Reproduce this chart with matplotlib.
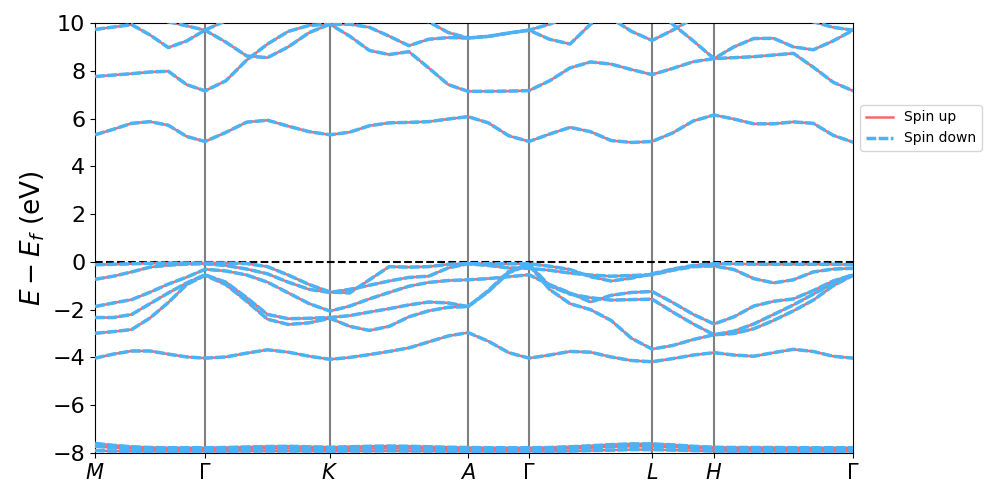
import numpy as np
import matplotlib
matplotlib.use("Agg")
import matplotlib.pyplot as plt

# k-path positions (sampling points along M-G-K-A-G-L-H-G)
kdist = [0.000, 0.183, 0.367, 0.550, 0.733, 0.917, 1.100,
         1.308, 1.517, 1.725, 1.933, 2.142, 2.350,
         2.547, 2.744, 2.941, 3.139, 3.336, 3.533, 3.730,
         3.933, 4.137, 4.340,
         4.545, 4.750, 4.955, 5.160, 5.365, 5.570,
         5.777, 5.983, 6.190,
         6.389, 6.587, 6.786, 6.984, 7.183, 7.381, 7.580]

kticks = [0.0, 1.10, 2.35, 3.73, 4.34, 5.57, 6.19, 7.58]
klabels = ["$M$", r"$\Gamma$", "$K$", "$A$", r"$\Gamma$", "$L$", "$H$", r"$\Gamma$"]

# band energies (eV), same for both spins
c10 = [10.5, 10.45, 10.35, 10.2, 10.05, 9.88, 9.70,
       9.2, 8.62, 8.55, 9.0, 9.6, 9.95,
       9.95, 9.82, 9.45, 9.05, 9.32, 9.39, 9.37,
       9.44, 9.58, 9.70,
       9.32, 9.12, 9.95, 10.5, 10.8, 10.6,
       9.95, 9.25, 8.51,
       9.0, 9.35, 9.36, 9.0, 8.88, 9.25, 9.70]
c9 = [9.73, 9.83, 9.93, 9.5, 8.97, 9.25, 9.70,
      10.1, 10.4, 10.6, 10.6, 10.5, 10.45,
      10.45, 10.4, 10.35, 10.25, 10.05, 9.6, 9.37,
      9.44, 9.58, 9.70,
      9.95, 10.3, 10.5, 10.2, 9.65, 9.27,
      9.7, 10.2, 10.5,
      10.6, 10.6, 10.5, 10.3, 10.05, 9.82, 9.70]
c8 = [7.76, 7.82, 7.88, 7.95, 7.98, 7.42, 7.16,
      7.58, 8.45, 9.12, 9.65, 9.90, 9.95,
      9.45, 8.85, 8.68, 8.80, 8.12, 7.42, 7.14,
      7.14, 7.15, 7.17,
      7.58, 8.12, 8.37, 8.28, 8.05, 7.84,
      8.1, 8.38, 8.51,
      8.55, 8.59, 8.66, 8.73, 8.15, 7.52, 7.16]
c7 = [5.32, 5.55, 5.80, 5.87, 5.72, 5.25, 5.04,
      5.42, 5.85, 5.93, 5.68, 5.45, 5.32,
      5.43, 5.70, 5.82, 5.84, 5.87, 5.98, 6.08,
      5.82, 5.28, 5.04,
      5.35, 5.63, 5.45, 5.08, 5.0, 5.04,
      5.4, 5.9, 6.15,
      5.98, 5.78, 5.78, 5.86, 5.8, 5.3, 5.01]
v1 = [-0.12, -0.10, -0.08, -0.06, -0.05, -0.05, -0.05,
      -0.05, -0.07, -0.2, -0.55, -0.95, -1.26,
      -1.3, -0.75, -0.2, -0.22, -0.2, -0.1, -0.07,
      -0.08, -0.08, -0.08,
      -0.18, -0.32, -0.62, -0.8, -0.68, -0.5,
      -0.3, -0.15, -0.08,
      -0.08, -0.1, -0.1, -0.1, -0.1, -0.1, -0.12]
v2 = [-0.73, -0.6, -0.42, -0.22, -0.14, -0.09, -0.08,
      -0.15, -0.3, -0.5, -0.85, -1.15, -1.28,
      -1.15, -0.98, -0.8, -0.65, -0.6, -0.25, -0.08,
      -0.15, -0.25, -0.27,
      -0.35, -0.47, -0.55, -0.6, -0.57, -0.54,
      -0.35, -0.2, -0.17,
      -0.32, -0.7, -0.88, -0.75, -0.42, -0.3, -0.27]
v3 = [-1.87, -1.72, -1.58, -1.27, -0.93, -0.64, -0.31,
      -0.38, -0.55, -0.85, -1.3, -1.75, -2.06,
      -1.85, -1.55, -1.28, -1.02, -0.86, -0.78, -0.75,
      -0.7, -0.62, -0.54,
      -0.95, -1.3, -1.68, -1.4, -1.28, -1.24,
      -1.7, -2.2, -2.6,
      -2.3, -1.85, -1.65, -1.55, -1.2, -0.8, -0.54]
v4 = [-2.33, -2.33, -2.2, -1.75, -1.3, -0.88, -0.54,
      -0.85, -1.5, -2.2, -2.38, -2.36, -2.33,
      -2.25, -2.1, -1.96, -1.8, -1.68, -1.72, -1.87,
      -1.2, -0.4, -0.1,
      -1.0, -1.35, -1.5, -1.6, -1.58, -1.56,
      -2.1, -2.6, -3.05,
      -2.9, -2.6, -2.2, -1.8, -1.35, -0.9, -0.56]
v5 = [-2.99, -2.92, -2.83, -2.35, -1.7, -0.95, -0.56,
      -0.95, -1.65, -2.4, -2.62, -2.55, -2.36,
      -2.7, -2.87, -2.7, -2.3, -2.05, -1.9, -1.87,
      -1.25, -0.45, -0.13,
      -1.15, -1.75, -2.0, -2.45, -3.2, -3.65,
      -3.5, -3.25, -3.05,
      -3.0, -2.8, -2.45, -2.05, -1.6, -1.0, -0.56]
v6 = [-4.03, -3.86, -3.73, -3.73, -3.86, -3.98, -4.03,
      -3.98, -3.82, -3.68, -3.78, -3.95, -4.08,
      -4.0, -3.88, -3.75, -3.6, -3.35, -3.1, -2.96,
      -3.32, -3.8, -4.03,
      -3.9, -3.75, -3.78, -3.98, -4.13, -4.18,
      -4.05, -3.9, -3.8,
      -3.9, -3.95, -3.8, -3.66, -3.75, -3.95, -4.03]
w1 = [-7.6, -7.68, -7.74, -7.77, -7.78, -7.78, -7.78,
      -7.77, -7.75, -7.73, -7.72, -7.74, -7.76,
      -7.74, -7.72, -7.71, -7.72, -7.74, -7.76, -7.77,
      -7.78, -7.78, -7.78,
      -7.77, -7.74, -7.7, -7.65, -7.62, -7.62,
      -7.66, -7.72, -7.76,
      -7.77, -7.77, -7.77, -7.78, -7.78, -7.78, -7.78]
w2 = [-7.72, -7.78, -7.82, -7.83, -7.83, -7.83, -7.83,
      -7.83, -7.82, -7.81, -7.81, -7.82, -7.83,
      -7.82, -7.81, -7.8, -7.81, -7.82, -7.83, -7.83,
      -7.83, -7.83, -7.83,
      -7.83, -7.81, -7.78, -7.74, -7.72, -7.72,
      -7.75, -7.79, -7.82,
      -7.83, -7.83, -7.83, -7.83, -7.83, -7.83, -7.83]
w3 = [-7.9, -7.92, -7.93, -7.93, -7.93, -7.93, -7.93,
      -7.93, -7.92, -7.92, -7.92, -7.92, -7.93,
      -7.92, -7.92, -7.91, -7.92, -7.92, -7.93, -7.93,
      -7.93, -7.93, -7.93,
      -7.93, -7.92, -7.9, -7.88, -7.86, -7.86,
      -7.88, -7.9, -7.92,
      -7.93, -7.93, -7.93, -7.93, -7.93, -7.93, -7.93]

bands = [w3, w2, w1, v6, v5, v4, v3, v2, v1, c7, c8, c9, c10]

red = "#f46a6a"
blue = "#4ab2f7"

fig = plt.figure(figsize=(9.97, 4.98), dpi=100)
ax = fig.add_axes([0.0953, 0.0904, 0.7603, 0.8634])

for kt in kticks[1:-1]:
    ax.axvline(kt, color="grey", lw=1.5, zorder=1)
ax.axhline(0, color="black", ls="--", lw=1.5, zorder=1)

for i, b in enumerate(bands):
    ax.plot(kdist, b, color=red, lw=1.8, zorder=2,
            label="Spin up" if i == 0 else None)
for i, b in enumerate(bands):
    ax.plot(kdist, b, color=blue, lw=2.5, ls=(0, (2.8, 0.7)), zorder=3,
            label="Spin down" if i == 0 else None)

ax.set_xlim(kticks[0], kticks[-1])
ax.set_ylim(-8, 10)
ax.set_xticks(kticks)
ax.set_xticklabels(klabels, fontsize=15)
ax.set_yticks(range(-8, 11, 2))
ax.tick_params(axis="y", labelsize=16)
ax.set_ylabel("$E - E_f$ (eV)", fontsize=19)

ax.legend(loc="center left", bbox_to_anchor=(1.0, 0.756), fontsize=10)

fig.savefig("out.png", dpi=100)
